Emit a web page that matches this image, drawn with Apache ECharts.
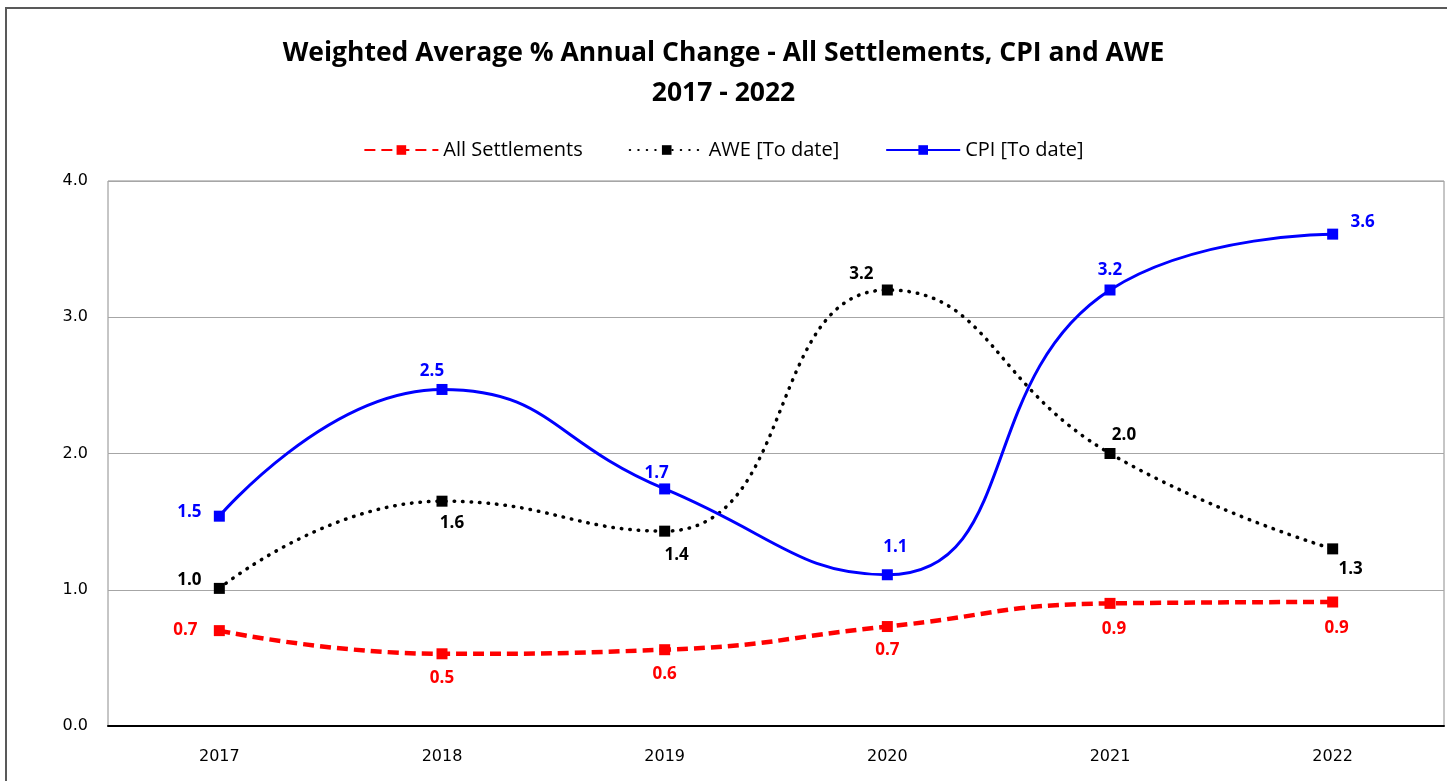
<!DOCTYPE html>
<html>
<head>
<meta charset="utf-8">
<script src="https://cdn.jsdelivr.net/npm/echarts@6/dist/echarts.min.js"></script>
<style>
  html, body { margin: 0; padding: 0; background: #fff; }
  #chart { width: 1447px; height: 781px; }
</style>
</head>
<body>
<div id="chart"></div>
<script>
const years = ['2017', '2018', '2019', '2020', '2021', '2022']
const settlements = [0.70, 0.53, 0.56, 0.73, 0.90, 0.91]
const awe = [1.01, 1.65, 1.43, 3.20, 2.00, 1.30]
const cpi = [1.54, 2.47, 1.74, 1.11, 3.20, 3.61]
const yTicks = [0, 1, 2, 3, 4]

// label placement per point, like the source
const setPos = [[-34, 0], [0, 24], [0, 24], [0, 24], [4, 26], [4, 26]]
const awePos = [[-30, -8], [10, 22], [12, 24], [-26, -16], [14, -18], [18, 20]]
const cpiPos = [[-30, -4], [-10, -18], [-8, -16], [8, -28], [0, -20], [30, -12]]

const labelFont = '"Open Sans", sans-serif'

function withLabels(vals, pos) {
  return vals.map((v, i) => ({
    value: v,
    label: { offset: pos[i] }
  }))
}

function lineSeries(name, vals, pos, color, type, width, cap) {
  return {
    name: name,
    type: 'line',
    smooth: 0.5,
    data: withLabels(vals, pos),
    symbol: 'rect',
    symbolSize: 11,
    itemStyle: { color: color },
    lineStyle: { color: color, type: type, width: width, cap: cap },
    label: {
      show: true,
      position: 'inside',
      color: color,
      fontFamily: labelFont,
      fontWeight: 'bold',
      fontSize: 17,
      formatter: p => p.value.toFixed(1)
    },
    z: name === 'CPI [To date]' ? 3 : 2
  }
}

const chart = echarts.init(document.getElementById('chart'))
chart.setOption({
  animation: false,
  graphic: [{
    type: 'rect',
    shape: { x: 6, y: 8, width: 1460, height: 800 },
    style: { fill: 'none', stroke: '#595959', lineWidth: 2 },
    silent: true
  }],
  title: {
    text: 'Weighted Average % Annual Change - All Settlements, CPI and AWE\n2017 - 2022',
    left: 'center',
    top: 28,
    textStyle: {
      fontFamily: labelFont,
      fontWeight: 'bold',
      fontSize: 26.5,
      lineHeight: 40,
      color: '#000'
    }
  },
  legend: {
    top: 135,
    left: 'center',
    itemWidth: 74,
    itemHeight: 12,
    itemGap: 46,
    textStyle: { fontFamily: labelFont, fontSize: 20, color: '#000' },
    data: ['All Settlements', 'AWE [To date]', 'CPI [To date]']
  },
  grid: {
    left: 108,
    right: 3,
    top: 181,
    bottom: 55,
    show: true,
    borderColor: '#8c8c8c',
    borderWidth: 1
  },
  xAxis: {
    type: 'category',
    data: years,
    boundaryGap: true,
    axisLine: { lineStyle: { color: '#000', width: 2 } },
    axisTick: { show: false },
    axisLabel: {
      margin: 23,
      fontFamily: '"DejaVu Sans", sans-serif',
      fontSize: 16,
      color: '#000'
    }
  },
  yAxis: {
    type: 'value',
    min: yTicks[0],
    max: yTicks[yTicks.length - 1],
    interval: 1,
    axisLine: { show: false },
    axisTick: { show: false },
    splitLine: { lineStyle: { color: '#a6a6a6', width: 1 } },
    axisLabel: {
      margin: 20,
      fontFamily: '"DejaVu Sans", sans-serif',
      fontSize: 16,
      color: '#000',
      formatter: v => v.toFixed(1)
    }
  },
  series: [
    lineSeries('All Settlements', settlements, setPos, '#ff0000', [11, 6], 4.5, 'butt'),
    lineSeries('AWE [To date]', awe, awePos, '#000000', [0.5, 8], 3.5, 'round'),
    lineSeries('CPI [To date]', cpi, cpiPos, '#0000ff', 'solid', 3, 'butt')
  ]
})
</script>
</body>
</html>
